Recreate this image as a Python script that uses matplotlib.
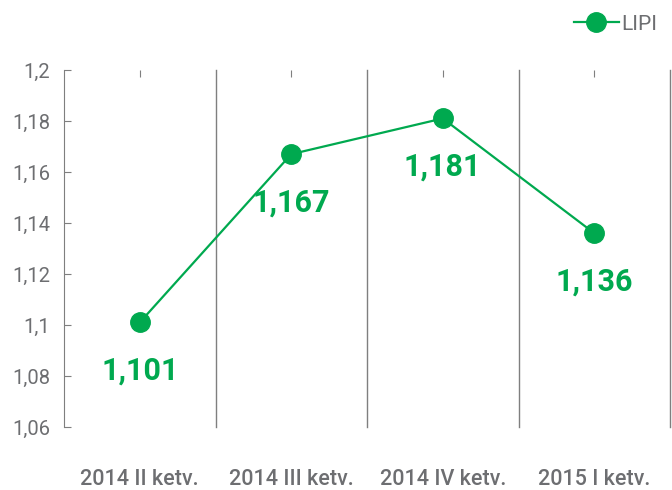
import matplotlib
matplotlib.use("Agg")
import matplotlib.pyplot as plt
from matplotlib.ticker import FuncFormatter

plt.rcParams['font.family'] = ['Roboto', 'DejaVu Sans']

# ---------------------------------------------------------------------
# DATA
# ---------------------------------------------------------------------
quarters = ["2014 II ketv.", "2014 III ketv.", "2014 IV ketv.", "2015 I ketv."]
lipi = [1.101, 1.167, 1.181, 1.136]
series_name = "LIPI"
y_ticks = [1.06, 1.08, 1.1, 1.12, 1.14, 1.16, 1.18, 1.2]

green = "#00A94F"
grey_text = "#6D6E71"
grey_line = "#7F7F7F"

fig = plt.figure(figsize=(6.72, 4.9), dpi=100)
ax = fig.add_axes([64 / 672, 1 - 427 / 490, 606 / 672, 357 / 490])

x = list(range(len(quarters)))
ax.plot(x, lipi, color=green, lw=1.6, marker="o", markersize=14,
        label=series_name, zorder=3)

# value labels under each point
for xi, v in zip(x, lipi):
    ax.annotate(f"{v:.3f}".replace(".", ","), (xi, v), xytext=(0, -35),
                textcoords="offset points", ha="center", va="center",
                fontsize=22, fontweight="bold", color=green)

# category separators
for b in [0.5, 1.5, 2.5, 3.5]:
    ax.axvline(b, color=grey_line, lw=1, clip_on=False, zorder=1)

ax.set_xlim(-0.5, 3.5)
ax.set_ylim(1.06, 1.2)
ax.set_yticks(y_ticks)
ax.yaxis.set_major_formatter(
    FuncFormatter(lambda v, p: f"{v:g}".replace(".", ",")))
ax.set_xticks(x)
ax.set_xticklabels(quarters)

for s in ["top", "right", "bottom"]:
    ax.spines[s].set_visible(False)
ax.spines["left"].set_color(grey_line)

ax.tick_params(axis="y", direction="in", length=5, color=grey_line,
               labelcolor=grey_text, labelsize=14.5, pad=10)
ax.tick_params(axis="x", bottom=False, top=True, labelbottom=True,
               labeltop=False, direction="in", length=5, color=grey_line,
               labelcolor=grey_text, labelsize=15.5, pad=30)
for lab in ax.get_xticklabels():
    lab.set_fontweight("medium")

leg = fig.legend(loc="upper right", bbox_to_anchor=(1.0, 1.0), frameon=False,
                 fontsize=15, handlelength=2.2, handletextpad=0.1,
                 borderaxespad=0.3, labelcolor=grey_text)

fig.savefig("out.png", dpi=100)
